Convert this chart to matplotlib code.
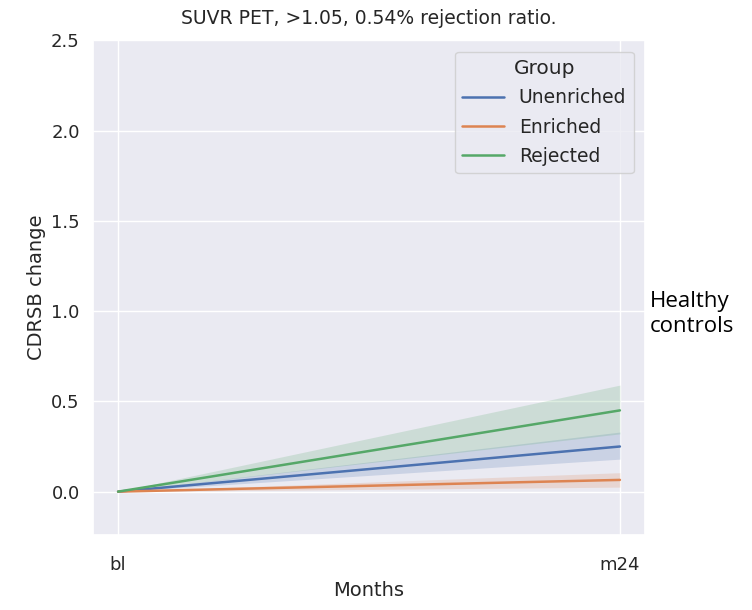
import matplotlib
matplotlib.use("Agg")
import matplotlib.pyplot as plt
import seaborn as sns
import numpy as np

sns.set_theme(style="darkgrid")
plt.rcParams['font.family'] = ['DejaVu Sans']

months = ["bl", "m24"]
groups = ["Unenriched", "Enriched", "Rejected"]
mean_unenriched = [0.0, 0.25]
low_unenriched = [0.0, 0.18]
high_unenriched = [0.0, 0.33]
mean_enriched = [0.0, 0.065]
low_enriched = [0.0, 0.025]
high_enriched = [0.0, 0.105]
mean_rejected = [0.0, 0.45]
low_rejected = [0.0, 0.32]
high_rejected = [0.0, 0.59]

colors = sns.color_palette()[:3]

fig = plt.figure(figsize=(7.52, 6.10), dpi=100)
ax = fig.add_axes([0.1237, 0.123, 0.734, 0.811])

x = np.arange(len(months))
series = [(mean_unenriched, low_unenriched, high_unenriched),
          (mean_enriched, low_enriched, high_enriched),
          (mean_rejected, low_rejected, high_rejected)]
for name, (m, lo, hi), c in zip(groups, series, colors):
    ax.plot(x, m, color=c, lw=1.8, label=name)
    ax.fill_between(x, lo, hi, color=c, alpha=0.2, lw=0)

ax.set_xticks(x)
ax.set_xticklabels(months)
ax.set_xlim(-0.05, 1.05)
ax.set_ylim(-0.24, 2.5)
ax.set_yticks([0.0, 0.5, 1.0, 1.5, 2.0, 2.5])
ax.tick_params(labelsize=13, colors="#262626")
ax.tick_params(axis="x", pad=9)
ax.set_xlabel("Months", fontsize=14, labelpad=5)
ax.set_ylabel("CDRSB change", fontsize=14)
ax.set_title("SUVR PET, >1.05, 0.54% rejection ratio.", fontsize=13.5, pad=12)
leg = ax.legend(title="Group", loc="upper right", fontsize=13.5, title_fontsize=14.5,
                labelspacing=0.55, handlelength=2.2, borderaxespad=0.6)

fig.text(0.864, 0.486, "Healthy\ncontrols", fontsize=16, family=['Open Sans', 'DejaVu Sans'],
         color="black", ha="left", va="center", linespacing=1.25)

fig.savefig("out.png", dpi=100)
